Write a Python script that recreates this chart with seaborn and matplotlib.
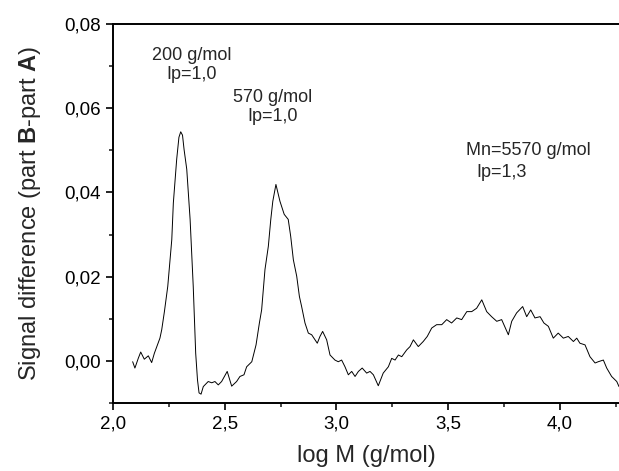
import matplotlib
matplotlib.use("Agg")
import matplotlib.pyplot as plt
import seaborn as sns
import pandas as pd
from matplotlib.ticker import FixedLocator, MultipleLocator

# ---- data ----
log_m = [2.088, 2.098, 2.113, 2.124, 2.140, 2.158, 2.173, 2.185, 2.196, 2.210,
         2.218, 2.230, 2.245, 2.255, 2.263, 2.270, 2.285, 2.295, 2.303, 2.311,
         2.318, 2.330, 2.345, 2.359, 2.370, 2.378, 2.385, 2.394, 2.404, 2.426,
         2.442, 2.456, 2.471, 2.486, 2.511, 2.531, 2.553, 2.568, 2.586, 2.598,
         2.621, 2.640, 2.655, 2.665, 2.680, 2.695, 2.706, 2.715, 2.729, 2.747,
         2.766, 2.784, 2.795, 2.807, 2.822, 2.834, 2.844, 2.859, 2.874, 2.889,
         2.904, 2.914, 2.926, 2.938, 2.956, 2.971, 2.993, 3.008, 3.023, 3.038,
         3.053, 3.068, 3.083, 3.098, 3.115, 3.135, 3.150, 3.165, 3.187, 3.209,
         3.232, 3.247, 3.262, 3.277, 3.292, 3.314, 3.329, 3.344, 3.366, 3.388,
         3.406, 3.426, 3.448, 3.471, 3.493, 3.515, 3.538, 3.560, 3.583, 3.605,
         3.627, 3.650, 3.672, 3.694, 3.717, 3.739, 3.769, 3.784, 3.806, 3.833,
         3.851, 3.869, 3.888, 3.911, 3.928, 3.948, 3.970, 3.992, 4.015, 4.037,
         4.060, 4.075, 4.089, 4.112, 4.134, 4.157, 4.171, 4.194, 4.209, 4.231,
         4.254, 4.264]
signal = [-0.0002, -0.0017, 0.0006, 0.0021, 0.0004, 0.0012, -0.0004, 0.0018, 0.0034, 0.0054,
          0.0074, 0.0117, 0.0177, 0.0240, 0.0288, 0.0375, 0.0479, 0.0531, 0.0544, 0.0536,
          0.0502, 0.0455, 0.0336, 0.0177, 0.0018, -0.0045, -0.0076, -0.0079, -0.0061, -0.0049,
          -0.0052, -0.0049, -0.0057, -0.0049, -0.0025, -0.0060, -0.0049, -0.0037, -0.0033, -0.0014,
          -0.0002, 0.0038, 0.0090, 0.0121, 0.0217, 0.0272, 0.0336, 0.0379, 0.0419, 0.0379,
          0.0348, 0.0336, 0.0296, 0.0240, 0.0201, 0.0153, 0.0129, 0.0090, 0.0066, 0.0062,
          0.0050, 0.0042, 0.0058, 0.0070, 0.0050, 0.0014, 0.0002, -0.0002, 0.0002, -0.0014,
          -0.0033, -0.0025, -0.0037, -0.0025, -0.0017, -0.0029, -0.0025, -0.0033, -0.0059, -0.0029,
          -0.0014, 0.0006, 0.0002, 0.0014, 0.0010, 0.0026, 0.0034, 0.0050, 0.0034, 0.0046,
          0.0058, 0.0078, 0.0086, 0.0086, 0.0098, 0.0090, 0.0102, 0.0098, 0.0117, 0.0117,
          0.0125, 0.0145, 0.0117, 0.0105, 0.0094, 0.0098, 0.0062, 0.0094, 0.0114, 0.0129,
          0.0105, 0.0121, 0.0102, 0.0105, 0.0090, 0.0082, 0.0054, 0.0066, 0.0054, 0.0058,
          0.0046, 0.0054, 0.0042, 0.0038, 0.0010, -0.0005, -0.0002, 0.0002, -0.0017, -0.0037,
          -0.0049, -0.0061]

x_ticks = [2.0, 2.5, 3.0, 3.5, 4.0]
x_tick_labels = ["2,0", "2,5", "3,0", "3,5", "4,0"]
y_ticks = [0.00, 0.02, 0.04, 0.06, 0.08]
y_tick_labels = ["0,00", "0,02", "0,04", "0,06", "0,08"]

sns.set_style("ticks")
plt.rcParams["font.family"] = ["Liberation Sans", "DejaVu Sans"]
plt.rcParams["mathtext.fontset"] = "custom"
plt.rcParams["mathtext.rm"] = "Liberation Sans"
plt.rcParams["mathtext.bf"] = "Liberation Sans:bold"

fig = plt.figure(figsize=(6.19, 4.71), dpi=100)
ax = fig.add_axes([113 / 619, 1 - 403 / 471, 1 - 113 / 619, (403 - 24) / 471])

df = pd.DataFrame({"logM": log_m, "signal": signal})
sns.lineplot(data=df, x="logM", y="signal", ax=ax, color="black", linewidth=0.7,
             sort=False, estimator=None)

ax.set_xlim(2.0, 4.264)
ax.set_ylim(-0.01, 0.08)
ax.xaxis.set_major_locator(FixedLocator(x_ticks))
ax.set_xticklabels(x_tick_labels)
ax.xaxis.set_minor_locator(MultipleLocator(0.25))
ax.yaxis.set_major_locator(FixedLocator(y_ticks))
ax.set_yticklabels(y_tick_labels)
ax.yaxis.set_minor_locator(MultipleLocator(0.01))

ax.tick_params(which="major", direction="out", length=5, width=1.2, labelsize=13.5, pad=4,
               colors="black")
ax.tick_params(which="minor", direction="out", length=3, width=1.2)
ax.tick_params(axis="x", which="both", top=False)
ax.tick_params(axis="y", which="both", right=False)

for side in ["left", "bottom", "top"]:
    ax.spines[side].set_linewidth(1.4)
    ax.spines[side].set_color("black")
ax.spines["right"].set_visible(False)

ax.set_xlabel("log M (g/mol)", fontsize=17, labelpad=9)
ax.set_ylabel(r"Signal difference (part $\mathbf{B}$-part $\mathbf{A}$)", fontsize=17, labelpad=15)

ax.text(2.353, 0.0702, "200 g/mol\nIp=1,0", ha="center", va="center", fontsize=13,
        linespacing=1.15)
ax.text(2.714, 0.0602, "570 g/mol\nIp=1,0", ha="center", va="center", fontsize=13,
        linespacing=1.15)
ax.text(3.579, 0.0500, "Mn=5570 g/mol", ha="left", va="center", fontsize=13)
ax.text(3.627, 0.0447, "Ip=1,3", ha="left", va="center", fontsize=13)

fig.savefig("out.png", dpi=100)
